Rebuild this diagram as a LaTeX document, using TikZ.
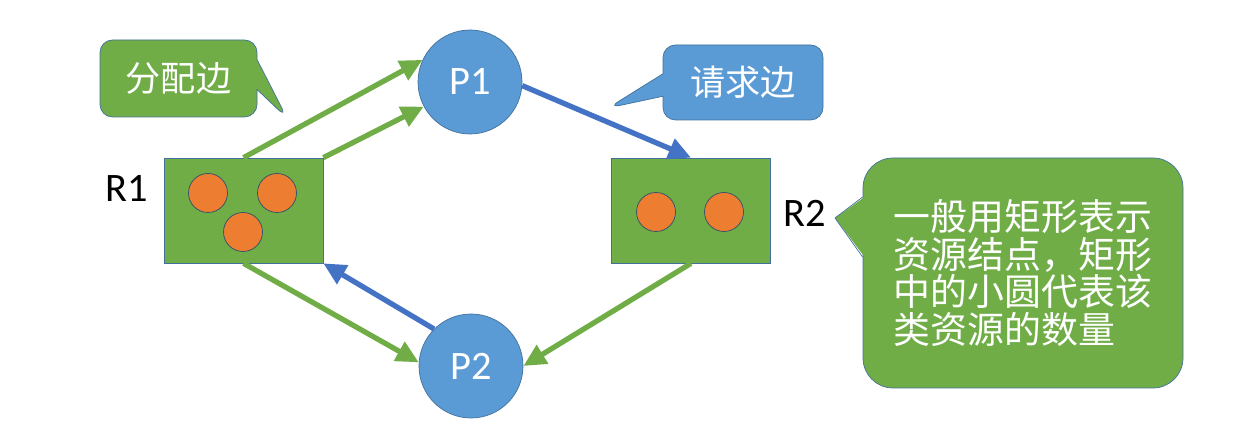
\documentclass[tikz,border=0pt]{standalone}
\usepackage{fontspec}
\setmainfont{Carlito}
\newfontfamily\cjk{Noto Sans CJK SC}
\usetikzlibrary{arrows.meta,shapes.callouts}

\definecolor{resgreen}{HTML}{70AD47}
\definecolor{procblue}{HTML}{5B9BD5}
\definecolor{reqblue}{HTML}{4472C4}
\definecolor{unitorange}{HTML}{ED7D31}
\definecolor{edgeline}{HTML}{41719C}

\tikzset{
    resbox/.style={draw=edgeline, fill=resgreen, minimum width=3.18cm, minimum height=2.1cm, inner sep=0},
    procnode/.style={circle, draw=edgeline, fill=procblue, minimum size=2.08cm, inner sep=0, text=white, font=\fontsize{23pt}{26pt}\selectfont},
    unit/.style={circle, draw=edgeline!70!black, fill=unitorange, minimum size=0.78cm, inner sep=0},
    reslabel/.style={font=\fontsize{23pt}{26pt}\selectfont},
    alloc/.style={draw=resgreen, line width=3pt, -{Triangle[length=0.45cm,width=0.42cm]}},
    req/.style={draw=reqblue, line width=3pt, -{Triangle[length=0.45cm,width=0.42cm]}},
    tipbox/.style={rectangle callout, draw=edgeline, text=white, inner sep=0, font=\cjk\fontsize{20pt}{24pt}\selectfont}
}

\begin{document}
\begin{tikzpicture}
    \useasboundingbox (0,0) rectangle (24.94, 8.52);

    % Resources
    \node[resbox] (R1) at (4.87, 4.31) {};
    \node[unit] (r1a) at (4.16, 4.66) {};
    \node[unit] (r1b) at (5.54, 4.66) {};
    \node[unit] (r1c) at (4.86, 3.88) {};
    \node[reslabel] (R1lab) at (2.54, 4.76) {R1};

    \node[resbox] (R2) at (13.82, 4.31) {};
    \node[unit] (r2a) at (13.12, 4.28) {};
    \node[unit] (r2b) at (14.48, 4.28) {};
    \node[reslabel] (R2lab) at (16.1, 4.26) {R2};

    % Processes
    \node[procnode] (P1) at (9.4, 6.88) {P1};
    \node[procnode] (P2) at (9.42, 1.2) {P2};

    % Edges
    \draw[alloc] (R1.north) -- (P1.155);
    \draw[alloc] (R1.north east) -- (P1.208);
    \draw[req] (P1.-4) -- (R2.north);
    \draw[alloc] (R2.south) -- (P2.east);
    \draw[alloc] (R1.south) -- (P2.176);
    \draw[req] (P2.135) -- (R1.south east);

    % Callouts
    \node[tipbox, fill=resgreen, rounded corners=0.25cm, minimum width=3.14cm, minimum height=1.54cm,
        callout pointer width=0.6cm, callout absolute pointer={(5.74, 6.16)}] (tipalloc) at (3.57, 6.95) {分配边};
    \node[tipbox, fill=procblue, rounded corners=0.25cm, minimum width=3.2cm, minimum height=1.5cm,
        callout pointer width=0.45cm, callout absolute pointer={(12.16, 6.36)}] (tipreq) at (14.86, 6.87) {请求边};

    % Note with sharp pointer
    \node[draw=edgeline, fill=resgreen, rounded corners=0.6cm, minimum width=6.4cm, minimum height=4.6cm,
        text=white, inner sep=0, align=left, font=\cjk\fontsize{21pt}{21.4pt}\selectfont] (tipnote) at (20.46, 3.06)
        {一般用矩形表示\\资源结点，矩形\\中的小圆代表该\\类资源的数量};
    \coordinate (notetip) at (16.7, 4.16);
    \fill[resgreen] ([shift={(0.04,1.52)}]tipnote.west) -- (notetip) -- ([shift={(0.04,0.32)}]tipnote.west) -- cycle;
    \draw[edgeline] ([yshift=1.52cm]tipnote.west) -- (notetip) -- ([yshift=0.32cm]tipnote.west);

\end{tikzpicture}
\end{document}
